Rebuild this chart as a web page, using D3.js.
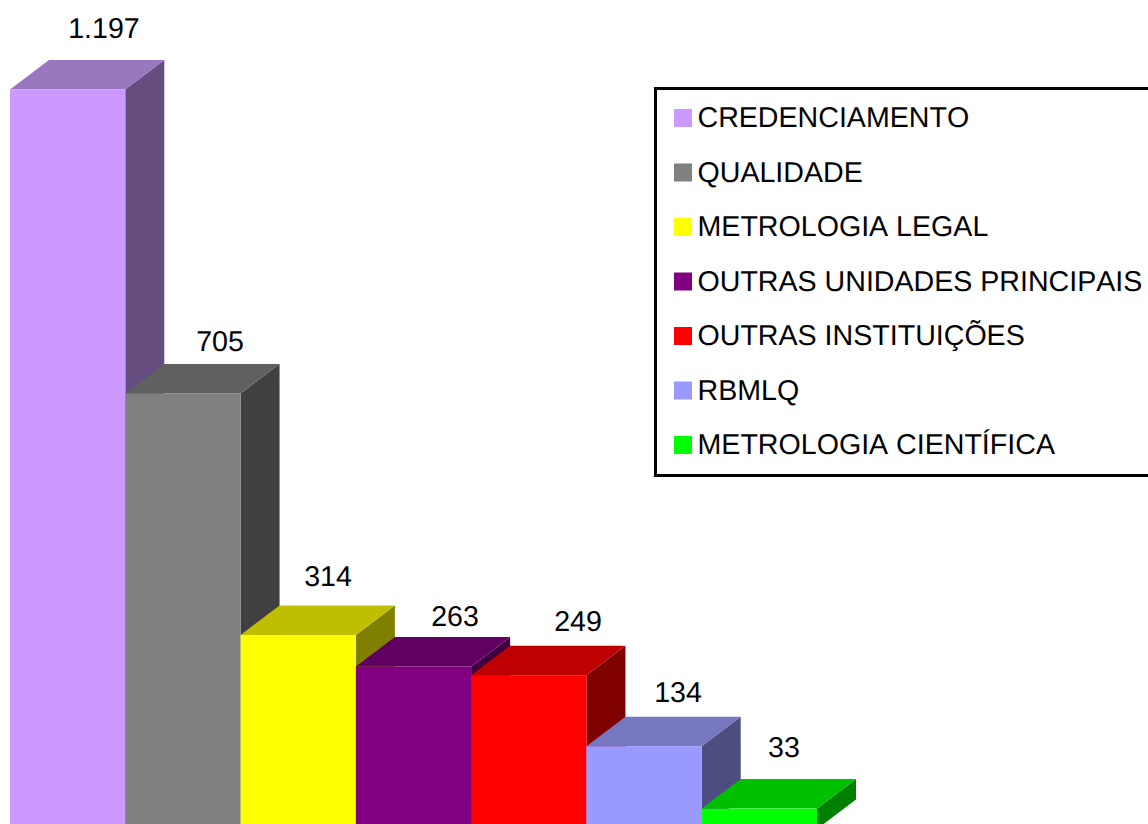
<!DOCTYPE html>
<html><head><meta charset="utf-8">
<script src="https://cdn.jsdelivr.net/npm/d3@7/dist/d3.min.js"></script>
<style>html,body{margin:0;padding:0;background:#fff}svg{display:block}text{font-family:"Liberation Sans",Arial,sans-serif;fill:#000;font-kerning:none;text-rendering:geometricPrecision}</style>
</head><body><svg id="c" width="1148" height="824"></svg>
<script>
const categories=["CREDENCIAMENTO","QUALIDADE","METROLOGIA LEGAL","OUTRAS UNIDADES PRINCIPAIS","OUTRAS INSTITUIÇÕES","RBMLQ","METROLOGIA CIENTÍFICA"];
const values=[1197,705,314,263,249,134,33];
const valueLabels=["1.197","705","314","263","249","134","33"];
const colors=["#cc99ff","#808080","#ffff00","#800080","#ff0000","#9999ff","#00ff00"];
const topColors=["#9977bf","#606060","#bfbf00","#600060","#bf0000","#7777bf","#00bf00"];
const sideColors=["#664d80","#404040","#808000","#400040","#800000","#4d4d80","#008000"];
const svg=d3.select("#c");
const x=d3.scaleBand().domain(categories).range([10,817]).paddingInner(0).paddingOuter(0);
const y=d3.scaleLinear().domain([0,1197]).range([829,89.5]);
const dx=39,dy=29.5;
const g=svg.append("g");
const data=categories.map((c,i)=>({c,v:values[i],l:valueLabels[i],i}));
const bars=g.selectAll("g.bar").data(data).join("g").attr("class","bar");
const L=d=>x(d.c),R=d=>x(d.c)+x.bandwidth(),T=d=>y(d.v),B=()=>y(0);
bars.append("polygon").attr("fill",d=>sideColors[d.i]).attr("points",d=>[[R(d),T(d)],[R(d)+dx,T(d)-dy],[R(d)+dx,B()-dy],[R(d),B()]].join(" "));
bars.append("polygon").attr("fill",d=>topColors[d.i]).attr("points",d=>[[L(d),T(d)],[L(d)+dx,T(d)-dy],[R(d)+dx,T(d)-dy],[R(d),T(d)]].join(" "));
bars.append("rect").attr("fill",d=>colors[d.i]).attr("x",L).attr("y",T).attr("width",x.bandwidth()).attr("height",d=>B()-T(d));
const labelX=[104,220,328,455,578,678,784];
const labelY=[38,351,586,626,631,702,757];
g.selectAll("text.v").data(data).join("text").attr("class","v").attr("x",d=>labelX[d.i]).attr("y",d=>labelY[d.i]).attr("text-anchor","middle").attr("font-size",28.6).text(d=>d.l);
const lg=svg.append("g");
lg.append("rect").attr("x",655.5).attr("y",88.5).attr("width",500).attr("height",387).attr("fill","#fff").attr("stroke","#000").attr("stroke-width",3);
const ly=d3.scalePoint().domain(categories).range([118,445]);
categories.forEach((c,i)=>{
 lg.append("rect").attr("x",674).attr("y",ly(c)-9).attr("width",18).attr("height",18).attr("fill",colors[i]);
 lg.append("text").attr("x",697.5).attr("y",ly(c)+9).attr("font-size",28.6).text(c);
});
</script></body></html>
